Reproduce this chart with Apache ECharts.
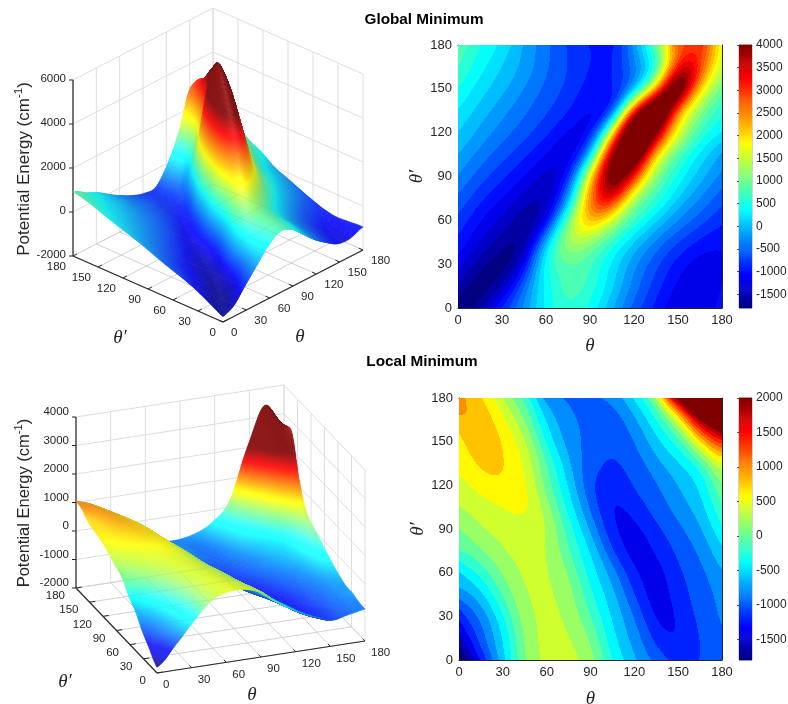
<!DOCTYPE html>
<html>
<head>
<meta charset="utf-8">
<style>html,body{margin:0;padding:0;background:#fff}#chart{width:788px;height:704px}</style>
<script src="https://cdn.jsdelivr.net/npm/echarts@6/dist/echarts.min.js"></script>
</head>
<body>
<div id="chart"></div>
<script>
// grid of the energy tables, rows are theta', columns are theta
var angles = [0, 15, 30, 45, 60, 75, 90, 105, 120, 135, 150, 165, 180];
var angleTicks = [0, 30, 60, 90, 120, 150, 180];

var globalEnergy = [
  [-1780, -1500, -800, -150, 450, 750, 550, 50, -450, -850, -1150, -1150, -950],
  [-1450, -1700, -1350, -450, 450, 950, 750, 250, -300, -700, -1050, -1200, -1000],
  [-1130, -1500, -1700, -1050, 500, 1000, 850, 350, -150, -550, -900, -1100, -1050],
  [-880, -1200, -1480, -1480, 100, 1300, 1300, 750, 200, -250, -600, -850, -950],
  [-670, -1000, -1250, -1500, -1050, 1000, 2200, 1700, 800, 250, -200, -500, -750],
  [-460, -750, -1000, -1270, -1320, -100, 2500, 3500, 1500, 800, 200, -200, -500],
  [-230, -500, -750, -1000, -1230, -720, 2000, 4300, 3300, 1300, 550, 100, -250],
  [-10, -280, -520, -750, -1000, -1100, 200, 3900, 5000, 2200, 1000, 350, 0],
  [180, -60, -300, -520, -750, -1000, -800, 2000, 5300, 4200, 1900, 800, 400],
  [370, 120, -130, -350, -570, -780, -950, -500, 3300, 5400, 2600, 1300, 700],
  [580, 300, 60, -200, -450, -650, -880, -750, 100, 2200, 4700, 2300, 1100],
  [780, 480, 200, -50, -350, -600, -800, -850, -300, 700, 3300, 3000, 1600],
  [920, 600, 330, -30, -350, -620, -800, -800, -100, 1100, 2700, 3100, 1900]
];
var localEnergy = [
  [-1800, -1150, -450, 170, 450, 460, 260, -200, -570, -860, -1100, -1000, -880],
  [-1450, -900, -400, 230, 460, 410, 170, -330, -700, -1080, -1190, -990, -860],
  [-1100, -780, -250, 270, 440, 330, 0, -420, -800, -1220, -1170, -950, -780],
  [-700, -450, 30, 370, 430, 270, -150, -550, -1000, -1290, -1100, -900, -760],
  [-400, -150, 200, 420, 400, 190, -290, -680, -1130, -1270, -1050, -860, -630],
  [0, 200, 370, 470, 380, 0, -420, -1000, -1280, -1170, -950, -750, -460],
  [200, 370, 480, 520, 390, -100, -640, -1130, -1250, -1050, -860, -630, -250],
  [400, 500, 590, 620, 300, -280, -830, -1210, -1110, -900, -700, -470, -40],
  [550, 680, 760, 630, 80, -430, -960, -1120, -980, -830, -600, -350, 180],
  [650, 850, 800, 560, 30, -530, -880, -1030, -900, -660, -440, -120, 590],
  [750, 950, 780, 430, -250, -680, -850, -930, -790, -450, -30, 800, 1500],
  [980, 940, 650, 200, -400, -720, -850, -920, -650, -200, 500, 1950, 2700],
  [1050, 830, 420, -50, -660, -830, -870, -720, -390, 300, 2100, 3400, 2500]
];

var globalBarTicks = [-1500, -1000, -500, 0, 500, 1000, 1500, 2000, 2500, 3000, 3500, 4000];
var localBarTicks = [-1500, -1000, -500, 0, 500, 1000, 1500, 2000];
var globalZTicks = [-2000, 0, 2000, 4000, 6000];
var localZTicks = [-2000, -1000, 0, 1000, 2000, 3000, 4000];

var LEVEL_STEP = 200;
var SANS = '"Liberation Sans", Arial, sans-serif';
var SERIF = '"Liberation Serif", "DejaVu Serif", serif';
var TEXT = '#262626';

function jet(p) {
  p = Math.max(0, Math.min(1, p));
  function ch(x) { return Math.max(0, Math.min(1, 1.5 - Math.abs(4 * x))); }
  return [ch(p - 0.75), ch(p - 0.5), ch(p - 0.25)];
}
function rgb(c) {
  return 'rgb(' + Math.round(c[0] * 255) + ',' + Math.round(c[1] * 255) + ',' + Math.round(c[2] * 255) + ')';
}

// catmull-rom through the table, only for drawing
function crom(a, b, c, d, t) {
  return 0.5 * (2 * b + (c - a) * t + (2 * a - 5 * b + 4 * c - d) * t * t + (3 * b - a - 3 * c + d) * t * t * t);
}
function tableAt(table, th, tp) {
  var n = angles.length - 1;
  var x = Math.max(0, Math.min(n - 1e-6, th / 15)), y = Math.max(0, Math.min(n - 1e-6, tp / 15));
  var i = Math.floor(x), j = Math.floor(y), row = [];
  for (var k = -1; k <= 2; k++) {
    var r = table[Math.max(0, Math.min(n, j + k))];
    row.push(crom(r[Math.max(0, i - 1)], r[i], r[i + 1], r[Math.min(n, i + 2)], x - i));
  }
  return crom(row[0], row[1], row[2], row[3], y - j);
}
function energyAt(fine, th, tp) {
  var x = Math.max(0, Math.min(179.999, th)), y = Math.max(0, Math.min(179.999, tp));
  var i = Math.floor(x), j = Math.floor(y), u = x - i, w = y - j;
  return (fine[j][i] * (1 - u) + fine[j][i + 1] * u) * (1 - w) + (fine[j + 1][i] * (1 - u) + fine[j + 1][i + 1] * u) * w;
}

// values are read by eye, so even out the wobble along the contour direction
// with a local linear fit, across the contours nothing is blurred
function alongContours(table, dirAt, sigma) {
  var raw = [], out = [], th, tp;
  for (tp = 0; tp <= 180; tp++) {
    raw.push([]);
    for (th = 0; th <= 180; th++) raw[tp].push(tableAt(table, th, tp));
  }
  for (tp = 0; tp <= 180; tp++) {
    out.push([]);
    for (th = 0; th <= 180; th++) {
      var d = dirAt(th, tp), sw = 0, ss = 0, s2 = 0, sv = 0, ssv = 0;
      for (var s = -2.2 * sigma; s <= 2.2 * sigma + 0.01; s += sigma / 4) {
        var x = th + d[0] * s, y = tp + d[1] * s;
        if (x < 0 || x > 180 || y < 0 || y > 180) continue;
        var w = Math.exp(-s * s / (2 * sigma * sigma)), v = energyAt(raw, x, y);
        sw += w; ss += w * s; s2 += w * s * s; sv += w * v; ssv += w * s * v;
      }
      var det = sw * s2 - ss * ss;
      out[tp].push(det > 1e-6 ? (s2 * sv - ss * ssv) / det : raw[tp][th]);
    }
  }
  return out;
}
function globalDir(th, tp) {
  var t = Math.max(0, Math.min(1, (th - tp - 20) / 40));
  var a = 0.55 + 0.25 * t, b = 0.83 - 0.23 * t;
  return [a, b];
}
function localDir() { return [-0.4, 0.92]; }

var globalFine = alongContours(globalEnergy, globalDir, 9);
var localFine = alongContours(localEnergy, localDir, 10);

// filled contour, one group of pixel runs per table cell
function contourSeries(fine, cmin, cmax, axisIndex) {
  var cells = [];
  for (var j = 0; j < angles.length - 1; j++) {
    for (var i = 0; i < angles.length - 1; i++) cells.push([angles[i], angles[j]]);
  }
  return {
    type: 'custom', xAxisIndex: axisIndex, yAxisIndex: axisIndex, data: cells, silent: true, animation: false,
    progressive: 0, clip: true, encode: { x: 0, y: 1 },
    renderItem: function (params, api) {
      var th = api.value(0), tp = api.value(1);
      var a = api.coord([th, tp]), b = api.coord([th + 15, tp + 15]);
      var x0 = Math.round(a[0]), x1 = Math.round(b[0]), y0 = Math.round(b[1]), y1 = Math.round(a[1]);
      var kids = [];
      for (var py = y0; py < y1; py++) {
        var tpv = tp + 15 * (a[1] - py - 0.5) / (a[1] - b[1]);
        var start = x0, last = null;
        for (var px = x0; px <= x1; px++) {
          var lev = null;
          if (px < x1) {
            var v = energyAt(fine, th + 15 * (px + 0.5 - a[0]) / (b[0] - a[0]), tpv);
            lev = Math.floor(v / LEVEL_STEP);
          }
          if (lev !== last) {
            if (last !== null) {
              // a band takes the colour of its lower level
              kids.push({
                type: 'rect', shape: { x: start, y: py, width: px - start, height: 1 },
                style: { fill: rgb(jet((last * LEVEL_STEP - cmin) / (cmax - cmin))) }
              });
            }
            start = px; last = lev;
          }
        }
      }
      return { type: 'group', children: kids };
    }
  };
}

function colorbarSeries(cmin, cmax, axisIndex) {
  var steps = [];
  for (var v = cmin; v < cmax; v += (cmax - cmin) / 256) steps.push(v);
  var dv = (cmax - cmin) / 256;
  return {
    type: 'custom', xAxisIndex: axisIndex, yAxisIndex: axisIndex, data: steps.map(function (s) { return [0, s]; }),
    silent: true, animation: false, progressive: 0, encode: { y: 1 },
    renderItem: function (params, api) {
      var s = api.value(1), a = api.coord([0, s]), b = api.coord([1, s + dv]);
      return {
        type: 'rect', shape: { x: a[0], y: b[1] - 0.3, width: b[0] - a[0], height: a[1] - b[1] + 0.6 },
        style: { fill: rgb(jet((s + dv / 2 - cmin) / (cmax - cmin))) }
      };
    }
  };
}

// the 3D panels: orthographic view given by the corners of the floor
function makeView(o) {
  o.project = function (th, tp, z) {
    return [
      o.ox + o.tx * th / 180 + o.px * tp / 180,
      o.oy + o.ty * th / 180 + o.py * tp / 180 - (z - o.zmin) * o.zs
    ];
  };
  return o;
}
var viewGlobal = makeView({
  ox: 223, oy: 322, tx: 140, ty: -72, px: -150, py: -66, zmin: -2000, zmax: 6000, zs: 176 / 8000,
  cmin: -1800, cmax: 4000, zTicks: globalZTicks, zNorm: 8000,
  thLabel: [8, 11], tpLabel: [-7, 11], zLabel: -1
});
var viewLocal = makeView({
  ox: 157, oy: 673, tx: 208, ty: -32, px: -81, py: -85, zmin: -2000, zmax: 4000, zs: 171 / 6000,
  cmin: -1800, cmax: 2000, zTicks: localZTicks, zNorm: 6000,
  thLabel: [6, 12], tpLabel: [-11, 8], zLabel: -5
});

function line(p, q, color, w) {
  return {
    type: 'line', shape: { x1: p[0], y1: p[1], x2: q[0], y2: q[1] },
    style: { stroke: color, lineWidth: w }
  };
}
function label(x, y, s, align, size) {
  return {
    type: 'text', x: x, y: y,
    style: { text: s, fill: TEXT, font: (size || 11.5) + 'px ' + SANS, textAlign: align, textVerticalAlign: 'middle' }
  };
}

function gridLines(view, color) {
  var out = [], P = view.project, zb = view.zmin, zt = view.zmax;
  angleTicks.forEach(function (a) {
    out.push(line(P(a, 0, zb), P(a, 180, zb), color, 1));
    out.push(line(P(0, a, zb), P(180, a, zb), color, 1));
    out.push(line(P(a, 180, zb), P(a, 180, zt), color, 1));
    out.push(line(P(180, a, zb), P(180, a, zt), color, 1));
  });
  view.zTicks.forEach(function (z) {
    out.push(line(P(0, 180, z), P(180, 180, z), color, 1));
    out.push(line(P(180, 180, z), P(180, 0, z), color, 1));
  });
  return out;
}

function boxSeries(view) {
  return {
    type: 'custom', coordinateSystem: 'none', data: [0], silent: true, animation: false, z: 1,
    renderItem: function () {
      var kids = gridLines(view, '#dedede'), P = view.project, zb = view.zmin;
      var dark = '#262626';
      kids.push(line(P(0, 0, zb), P(180, 0, zb), dark, 1.2));
      kids.push(line(P(0, 0, zb), P(0, 180, zb), dark, 1.2));
      kids.push(line(P(0, 180, zb), P(0, 180, view.zmax), dark, 1.2));
      angleTicks.forEach(function (a) {
        var p = P(a, 0, zb), q = P(a, 5, zb), r = P(0, a, zb), s = P(5, a, zb);
        kids.push(line(p, q, dark, 1));
        kids.push(line(r, s, dark, 1));
        kids.push(label(p[0] + view.thLabel[0], p[1] + view.thLabel[1], String(a), 'left'));
        kids.push(label(r[0] + view.tpLabel[0], r[1] + view.tpLabel[1], String(a), 'right'));
      });
      view.zTicks.forEach(function (z) {
        var p = P(0, 180, z);
        kids.push(line(p, [p[0] - 4, p[1]], dark, 1));
        kids.push(label(p[0] - 7, p[1] + view.zLabel, String(z), 'right'));
      });
      return { type: 'group', children: kids };
    }
  };
}

var CELL = 2;
function surfaceSeries(view, fine) {
  var nn = 180 / CELL, quads = [];
  for (var j = 0; j < nn; j++) {
    for (var i = 0; i < nn; i++) {
      var th = i * CELL, tp = j * CELL;
      var f = view.project(th + CELL / 2, tp + CELL / 2, view.zmin);
      quads.push([th, tp, f[1]]);
    }
  }
  // far quads first so the near ones cover them
  quads.sort(function (a, b) { return a[2] - b[2]; });
  return {
    type: 'custom', coordinateSystem: 'none', data: quads, silent: true, animation: false, progressive: 0, z: 2,
    renderItem: function (params, api) {
      var th = api.value(0), tp = api.value(1), P = view.project;
      var z00 = energyAt(fine, th, tp), z10 = energyAt(fine, th + CELL, tp);
      var z01 = energyAt(fine, th, tp + CELL), z11 = energyAt(fine, th + CELL, tp + CELL);
      var dx = ((z10 + z11) - (z00 + z01)) / 2 / view.zNorm * (180 / CELL);
      var dy = ((z01 + z11) - (z00 + z10)) / 2 / view.zNorm * (180 / CELL);
      var nl = Math.sqrt(dx * dx + dy * dy + 1);
      var lit = (dx * 0.75 + dy * 0.25 + 0.6) / nl;
      var shade = 0.84 + 0.2 * Math.max(0, lit);
      var spec = Math.pow(Math.max(0, lit), 10) * 0.1;
      // steep quads are cut up so that the colour follows the height
      var range = Math.max(z00, z10, z01, z11) - Math.min(z00, z10, z01, z11);
      var n = Math.max(1, Math.min(6, Math.ceil(range / 40)));
      var kids = [], ds = CELL / n;
      for (var b = n - 1; b >= 0; b--) {
        for (var a = n - 1; a >= 0; a--) {
          var t0 = th + a * ds, p0 = tp + b * ds, t1 = t0 + ds, p1 = p0 + ds;
          var q00 = energyAt(fine, t0, p0), q10 = energyAt(fine, t1, p0), q01 = energyAt(fine, t0, p1), q11 = energyAt(fine, t1, p1);
          var c = jet(((q00 + q10 + q01 + q11) / 4 - view.cmin) / (view.cmax - view.cmin)).map(function (v) {
            v = Math.min(1, v * shade + spec);
            return v * 0.9 + 0.1;
          });
          var col = rgb(c);
          kids.push({
            type: 'polygon',
            shape: { points: [P(t0, p0, q00), P(t1, p0, q10), P(t1, p1, q11), P(t0, p1, q01)] },
            style: { fill: col, stroke: col, lineWidth: 0.6 }
          });
        }
      }
      return { type: 'group', children: kids };
    }
  };
}

function overlaySeries(view) {
  return {
    type: 'custom', coordinateSystem: 'none', data: [0], silent: true, animation: false, z: 3,
    renderItem: function () {
      var kids = [], P = view.project, zb = view.zmin;
      angleTicks.forEach(function (a) {
        kids.push(line(P(a, 0, zb), P(a, 180, zb), 'rgba(120,120,120,0.1)', 1));
        kids.push(line(P(0, a, zb), P(180, a, zb), 'rgba(120,120,120,0.1)', 1));
      });
      return { type: 'group', children: kids };
    }
  };
}

function angleAxes(gridIndex, showName, pos) {
  return {
    gridIndex: gridIndex, type: 'value', min: 0, max: 180, interval: 30, position: pos,
    axisLine: { show: true, onZero: false, lineStyle: { color: TEXT, width: 1 } },
    axisTick: { show: true, inside: true, length: 3, lineStyle: { color: TEXT } },
    axisLabel: { show: showName, color: TEXT, fontSize: 13, fontFamily: SANS, margin: 6 },
    splitLine: { show: false }
  };
}
function named(axis, text, gap) {
  axis.name = text;
  axis.nameLocation = 'middle';
  axis.nameGap = gap;
  axis.nameTextStyle = { fontFamily: SERIF, fontStyle: 'italic', fontSize: 19, color: TEXT };
  return axis;
}

var plots = [
  { left: 458, right: 722, top: 45, bottom: 308 },
  { left: 459, right: 722, top: 398, bottom: 660 }
];
var grids = [], xAxes = [], yAxes = [];
plots.forEach(function (p, k) {
  grids.push({ left: p.left, top: p.top, width: p.right - p.left, height: p.bottom - p.top, outerBoundsMode: 'none' });
});
plots.forEach(function (p) {
  grids.push({
    left: 739, top: p.top, width: 13, height: p.bottom - p.top, show: true, borderColor: '#a8a8a8',
    borderWidth: 1, backgroundColor: 'transparent', outerBoundsMode: 'none'
  });
});
[0, 1].forEach(function (g) {
  xAxes.push(named(angleAxes(g, true, 'bottom'), '\u03b8', g === 0 ? 28 : 29));
  yAxes.push(named(angleAxes(g, true, 'left'), '\u03b8\u2032', 25));
});
[[-1800, 4000, globalBarTicks], [-1800, 2000, localBarTicks]].forEach(function (b, k) {
  xAxes.push({ gridIndex: 2 + k, type: 'value', min: 0, max: 1, show: false });
  yAxes.push({
    gridIndex: 2 + k, type: 'value', min: b[0], max: b[1], position: 'right',
    axisLine: { show: false },
    axisTick: { show: true, inside: true, length: 2, lineStyle: { color: '#555' }, customValues: b[2] },
    axisLabel: {
      color: TEXT, fontSize: 12, fontFamily: SANS, margin: 4, customValues: b[2], hideOverlap: false,
      formatter: function (v) { return String(v); }
    },
    splitLine: { show: false }
  });
});
// opposite side ticks of the contour boxes
[0, 1].forEach(function (g) {
  xAxes.push(angleAxes(g, false, 'top'));
  yAxes.push(angleAxes(g, false, 'right'));
});

function titleText(x, y, s) {
  return { type: 'text', x: x, y: y, style: { text: s, font: 'bold 15.3px ' + SANS, fill: '#000', textAlign: 'center', textVerticalAlign: 'middle' } };
}
function energyTitle(x, y, size) {
  return {
    type: 'text', x: x, y: y, rotation: Math.PI / 2,
    style: {
      text: '{a|Potential Energy (cm}{b|-1}{a|)}', textAlign: 'center', textVerticalAlign: 'middle',
      rich: {
        a: { font: size + 'px ' + SANS, fill: TEXT, verticalAlign: 'bottom' },
        b: { font: (size * 0.68) + 'px ' + SANS, fill: TEXT, verticalAlign: 'top', padding: [0, 0, 8, 0] }
      }
    }
  };
}
function thetaTitle(x, y, s) {
  return { type: 'text', x: x, y: y, style: { text: s, font: 'italic 19px ' + SERIF, fill: TEXT, textAlign: 'center', textVerticalAlign: 'middle' } };
}

var chart = echarts.init(document.getElementById('chart'), null, { renderer: 'canvas' });
chart.setOption({
  animation: false,
  backgroundColor: '#fff',
  grid: grids,
  xAxis: xAxes,
  yAxis: yAxes,
  graphic: [
    titleText(424, 20, 'Global Minimum'),
    titleText(422, 362, 'Local Minimum'),
    energyTitle(23, 169, 17),
    energyTitle(23, 503, 16.5),
    thetaTitle(120, 338, '\u03b8\u2032'),
    thetaTitle(300, 337, '\u03b8'),
    thetaTitle(65, 682, '\u03b8\u2032'),
    thetaTitle(252, 695, '\u03b8')
  ],
  series: [
    contourSeries(globalFine, -1800, 4000, 0),
    contourSeries(localFine, -1800, 2000, 1),
    colorbarSeries(-1800, 4000, 2),
    colorbarSeries(-1800, 2000, 3),
    boxSeries(viewGlobal),
    surfaceSeries(viewGlobal, globalFine),
    overlaySeries(viewGlobal),
    boxSeries(viewLocal),
    surfaceSeries(viewLocal, localFine),
    overlaySeries(viewLocal)
  ]
});
</script>
</body>
</html>
